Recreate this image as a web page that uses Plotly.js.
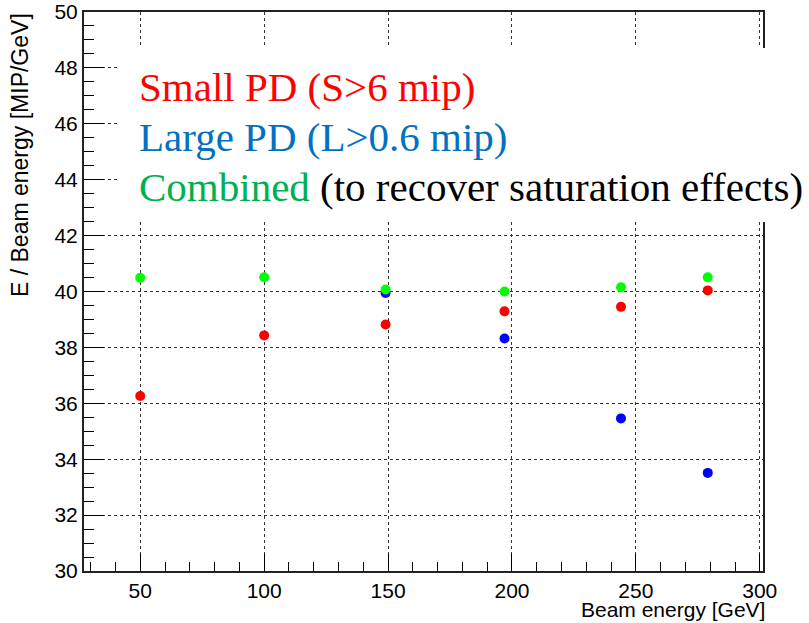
<!DOCTYPE html>
<html>
<head>
<meta charset="utf-8">
<script src="https://cdn.plot.ly/plotly-3.0.1.min.js"></script>
<style>html,body{margin:0;padding:0;background:#fff;}#chart{width:809px;height:623px;}</style>
</head>
<body>
<div id="chart"></div>
<script>
// Data
var beamEnergy = [50, 100, 149, 197, 244, 279];
var smallPD = [36.26, 38.43, 38.82, 39.29, 39.45, 40.04];
var largeEnergy = [149, 197, 244, 279];
var largePD = [39.95, 38.32, 35.46, 33.51];
var combined = [40.49, 40.51, 40.07, 40.00, 40.15, 40.51];

var legendLines = [
  {text: 'Small PD (S>6 mip)', color: '#ff0000'},
  {text: 'Large PD (L>0.6 mip)', color: '#0070c0'},
  {text: '<span style="color:#00b050">Combined</span> (to recover saturation effects)', color: '#000000'}
];

var W = 809, H = 623;
var M = {l: 84, r: 46, t: 12, b: 52};
var pw = W - M.l - M.r, ph = H - M.t - M.b;
function px(x) { return (x - M.l) / pw; }
function py(y) { return (H - M.b - y) / ph; }

var traces = [
  {x: beamEnergy, y: smallPD, type: 'scatter', mode: 'markers', name: 'Small PD',
   marker: {color: '#ff0000', size: 10}},
  {x: largeEnergy, y: largePD, type: 'scatter', mode: 'markers', name: 'Large PD',
   marker: {color: '#0000ff', size: 10}},
  {x: beamEnergy, y: combined, type: 'scatter', mode: 'markers', name: 'Combined',
   marker: {color: '#00ff00', size: 10}}
];

var sans = 'Liberation Sans, Arial, sans-serif';
var serif = 'Liberation Serif, Times New Roman, serif';

var annotations = legendLines.map(function (l, i) {
  return {xref: 'paper', yref: 'paper', x: px(137), y: py(87 + 50 * i),
    xanchor: 'left', yanchor: 'middle', showarrow: false, text: l.text,
    font: {family: serif, size: 41, color: l.color}};
});
annotations.push({xref: 'paper', yref: 'paper', x: px(767), y: py(609),
  xanchor: 'right', yanchor: 'middle', showarrow: false, text: 'Beam energy [GeV]',
  font: {family: sans, size: 21, color: '#000'}});
annotations.push({xref: 'paper', yref: 'paper', x: px(20), y: py(11),
  xanchor: 'center', yanchor: 'top', textangle: -90, showarrow: false,
  text: 'E / Beam energy [MIP/GeV]', font: {family: sans, size: 23, color: '#000'}});

var layout = {
  width: W, height: H,
  margin: M,
  paper_bgcolor: '#fff', plot_bgcolor: '#fff',
  showlegend: false,
  xaxis: {
    range: [27.3, 301.3], tick0: 0, dtick: 50,
    ticks: 'inside', ticklen: 17, tickwidth: 1, tickcolor: '#000',
    minor: {dtick: 10, tick0: 0, ticks: 'inside', ticklen: 9, tickwidth: 1, tickcolor: '#000', showgrid: false},
    showgrid: true, gridcolor: '#333', griddash: 'dot', gridwidth: 1,
    showline: true, linecolor: '#222', linewidth: 2, mirror: true,
    zeroline: false,
    tickfont: {family: sans, size: 21, color: '#000'}
  },
  yaxis: {
    range: [30, 50], tick0: 0, dtick: 2,
    ticks: 'inside', ticklen: 20, tickwidth: 1, tickcolor: '#000',
    minor: {dtick: 0.5, tick0: 0, ticks: 'inside', ticklen: 10, tickwidth: 1, tickcolor: '#000', showgrid: false},
    showgrid: true, gridcolor: '#333', griddash: 'dot', gridwidth: 1,
    showline: true, linecolor: '#222', linewidth: 2, mirror: true,
    zeroline: false,
    tickfont: {family: sans, size: 21, color: '#000'}
  },
  shapes: [
    {type: 'rect', xref: 'paper', yref: 'paper', layer: 'above',
     x0: px(120), x1: px(809), y0: py(222), y1: py(48),
     fillcolor: '#fff', line: {width: 0}}
  ],
  annotations: annotations
};

Plotly.newPlot('chart', traces, layout, {displayModeBar: false, staticPlot: true});
</script>
</body>
</html>
